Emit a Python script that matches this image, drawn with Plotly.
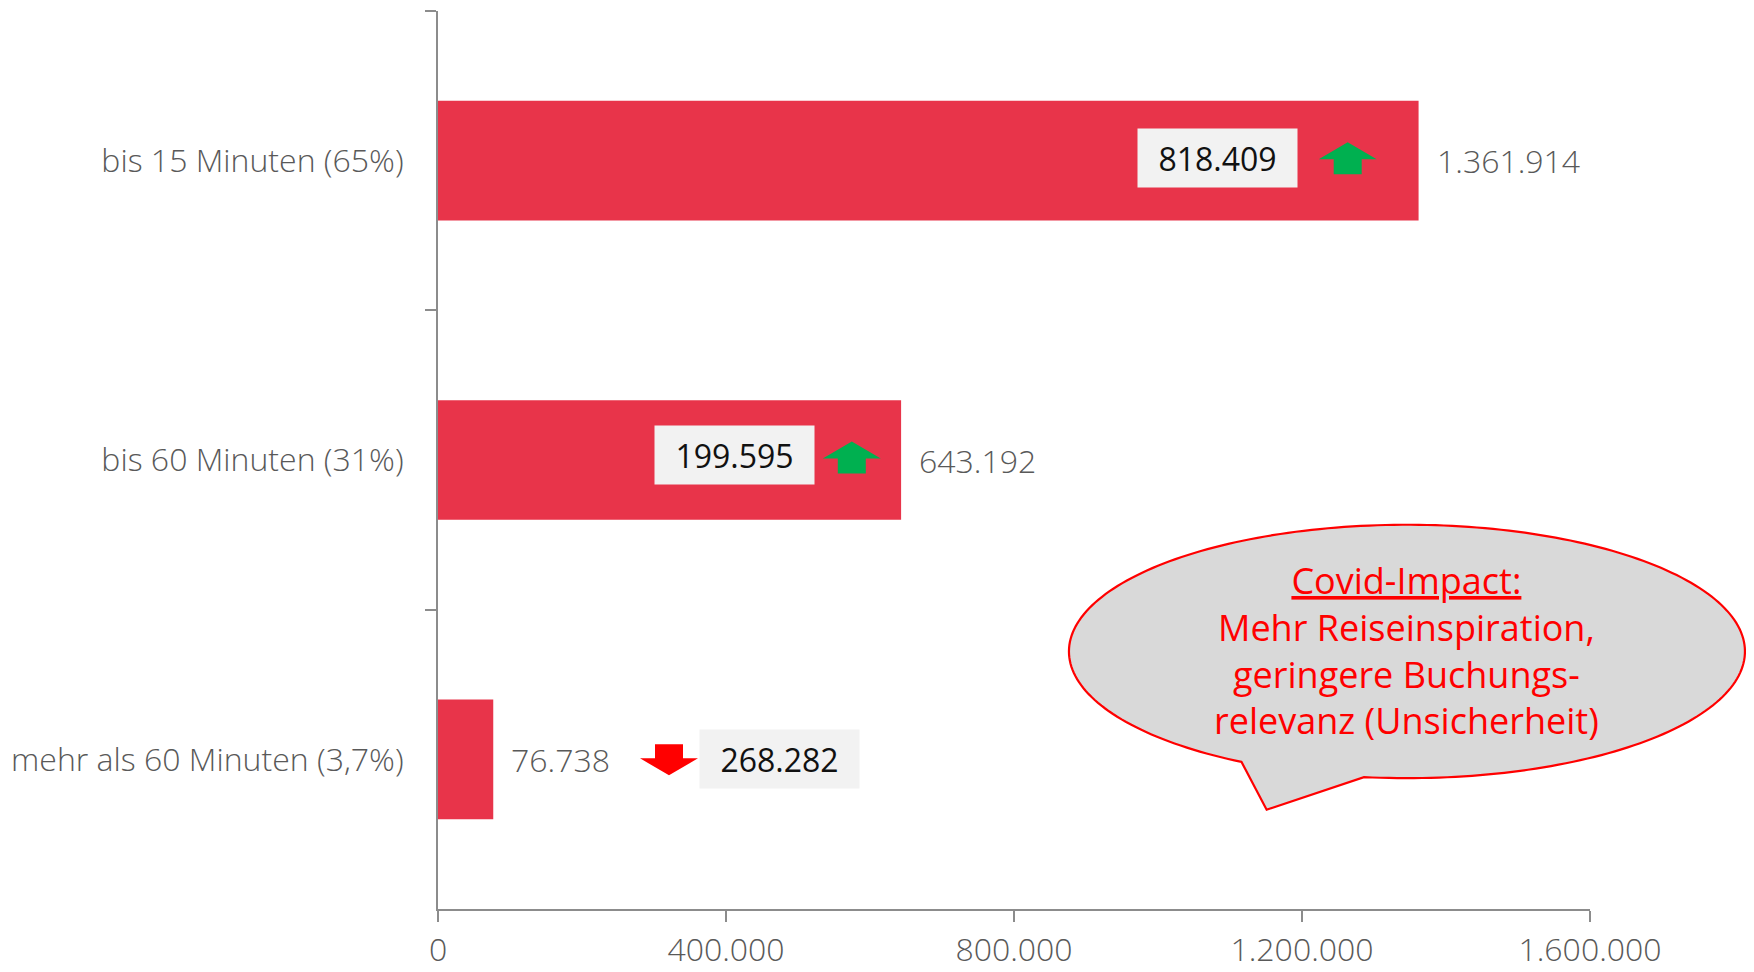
import numpy as np
import plotly.graph_objects as go

# ---------------- data ----------------
categories = ["bis 15 Minuten (65%)", "bis 60 Minuten (31%)", "mehr als 60 Minuten (3,7%)"]
values = [1361914, 643192, 76738]
changes = [818409, 199595, -268282]
x_tick_values = [0, 400000, 800000, 1200000, 1600000]
x_tick_labels = ["0", "400.000", "800.000", "1.200.000", "1.600.000"]
bubble_title = "Covid-Impact:"
bubble_lines = ["Mehr Reiseinspiration,", "geringere Buchungs-", "relevanz (Unsicherheit)"]

# ---------------- layout placement (not data) ----------------
change_box_x = [1081944, 411806, 474306]      # centre of change boxes (x axis units)
change_box_yshift = [3, 5, 0]
arrow_x = [1263472, 574722, 320833]           # centre of trend arrows (x axis units)


def fmt(v):
    return f"{abs(v):,}".replace(",", ".")


FONT = "Open Sans"
GRAY = "#595959"
AXIS = "#8c8c8c"
BAR = "#e8344a"

fig = go.Figure()
fig.add_trace(go.Bar(
    x=values, y=categories, orientation="h",
    marker=dict(color=BAR, line=dict(width=0)),
    width=0.4, hoverinfo="skip", showlegend=False,
))

annotations = []
shapes = []

# value labels to the right of bars
for cat, v in zip(categories, values):
    annotations.append(dict(
        x=v, y=cat, xref="x", yref="y", text=fmt(v), showarrow=False,
        xanchor="left", yanchor="middle", xshift=16,
        font=dict(family=FONT, size=32, color=GRAY, weight=300),
    ))

# change boxes
for cat, c, bx, ys in zip(categories, changes, change_box_x, change_box_yshift):
    annotations.append(dict(
        x=bx, y=cat, xref="x", yref="y", text=fmt(c), showarrow=False,
        xanchor="center", yanchor="middle", yshift=ys,
        bgcolor="#f2f2f2", width=159, height=58, borderpad=0, align="center",
        font=dict(family=FONT, size=32, color="#111111"),
    ))

UP_PATH = "M -29,1.5 L 0,18.5 L 29,1.5 L 14,1.5 L 14,-13.5 L -14,-13.5 L -14,1.5 Z"
DOWN_PATH = "M -14,15 L 14,15 L 14,1 L 29,1 L 0,-16 L -29,1 L -14,1 Z"
for cat, c, ax in zip(categories, changes, arrow_x):
    up = c > 0
    shapes.append(dict(
        type="path", xref="x", yref="y", xsizemode="pixel", ysizemode="pixel",
        xanchor=ax, yanchor=cat, path=UP_PATH if up else DOWN_PATH,
        fillcolor="#00b050" if up else "#ff0000", line=dict(width=0), layer="above",
    ))

# speech bubble (pixel geometry around an anchor in paper coords)
rx, ry = 338.0, 126.7
t1, t2 = np.deg2rad(119.3), np.deg2rad(360 + 97.3)
ts = np.linspace(t1, t2, 240)
pts = [(rx * np.cos(t), -ry * np.sin(t)) for t in ts]
tip = (-140.3, -158.3)
path = "M " + " L ".join(f"{x:.2f},{y:.2f}" for x, y in pts) + f" L {tip[0]},{tip[1]} Z"
BX, BY = 0.8411, 0.2868
shapes.append(dict(
    type="path", xref="paper", yref="paper", xsizemode="pixel", ysizemode="pixel",
    xanchor=BX, yanchor=BY, path=path, fillcolor="#d9d9d9",
    line=dict(color="#ff0000", width=2.2), layer="above",
))
annotations.append(dict(
    x=BX, y=BY, xref="paper", yref="paper", showarrow=False,
    xanchor="center", yanchor="middle", align="center", yshift=1,
    text="<br>".join(["<u>" + bubble_title + "</u>"] + bubble_lines),
    font=dict(family=FONT, size=36, color="#ff0000"),
))

# page body has an 8px margin: offset the figure so the plot sits where the reference has it
fig.update_layout(
    width=1746, height=964,
    margin=dict(l=430, r=164, t=3, b=63, pad=0),
    plot_bgcolor="white", paper_bgcolor="white",
    showlegend=False,
    annotations=annotations, shapes=shapes,
    font=dict(family=FONT, color=GRAY),
)
fig.update_xaxes(
    range=[0, 1600000], tickvals=x_tick_values, ticktext=x_tick_labels,
    showgrid=False, zeroline=False, showline=True, linecolor=AXIS, linewidth=2,
    ticks="outside", ticklen=11, tickwidth=2, tickcolor=AXIS,
    tickfont=dict(family=FONT, size=32, color=GRAY, weight=300),
    ticklabelstandoff=1, fixedrange=True, automargin=False,
)
fig.update_yaxes(
    type="category", categoryorder="array", categoryarray=categories,
    range=[2.5, -0.5], tickson="boundaries",
    showgrid=False, zeroline=False, showline=True, linecolor=AXIS, linewidth=2,
    ticks="outside", ticklen=11, tickwidth=2, tickcolor=AXIS,
    tickfont=dict(family=FONT, size=32, color=GRAY, weight=300),
    ticklabelstandoff=26, fixedrange=True, automargin=False,
)

fig.write_html("out.html")
